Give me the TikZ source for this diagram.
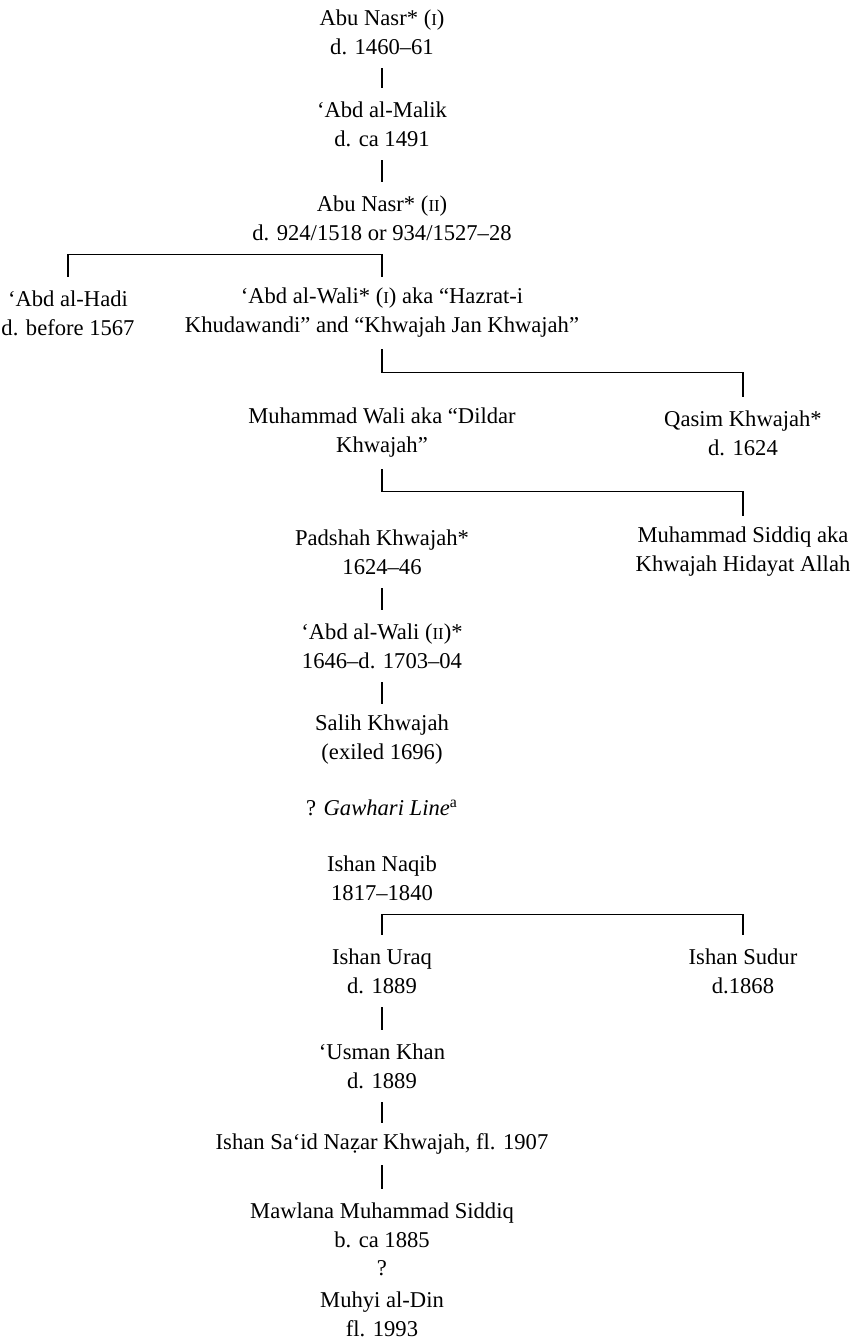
\documentclass[tikz,border=0pt]{standalone}
\usepackage{fontspec}
\setmainfont{Liberation Serif}
\newcommand\romnum[1]{{\fontsize{8.4}{10}\selectfont #1}}

\begin{document}
\begin{tikzpicture}[x=0.5pt,y=-0.5pt,
	every node/.style={font=\fontsize{11.3}{14.5}\selectfont,align=center,inner sep=0pt},
	person/.style={minimum height=36pt},
	single/.style={minimum height=21pt},
	link/.style={line width=0.6pt}]
	\useasboundingbox (0,0) rectangle (855,1341);
	% main line
	\node[person] (nasrA)   at (382,32)   {Abu Nasr* (\romnum{I})\\d. 1460–61};
	\node[person] (malik)   at (382,124)  {‘Abd al-Malik\\d. ca 1491};
	\node[person] (nasrB)   at (382,218)  {Abu Nasr* (\romnum{II})\\d. 924/1518 or 934/1527–28};
	\node[person] (hadi)    at (68,313)   {‘Abd al-Hadi\\d. before 1567};
	\node[person] (waliA)   at (382,313)  {‘Abd al-Wali* (\romnum{I}) aka “Hazrat-i\\Khudawandi” and “Khwajah Jan Khwajah”};
	\node[person] (wali)    at (382,433)  {Muhammad Wali aka “Dildar\\Khwajah”};
	\node[person] (qasim)   at (743,433)  {Qasim Khwajah*\\d. 1624};
	\node[person] (padshah) at (382,552)  {Padshah Khwajah*\\1624–46};
	\node[person] (siddiq)  at (743,552)  {Muhammad Siddiq aka\\Khwajah Hidayat Allah};
	\node[person] (waliB)   at (382,646)  {‘Abd al-Wali (\romnum{II})*\\1646–d. 1703–04};
	\node[person] (salih)   at (382,740)  {Salih Khwajah\\(exiled 1696)};
	\node (gawhari) at (382,808) {? \textit{Gawhari Line}\textsuperscript{a}};
	% later line
	\node[person] (naqib)   at (382,878)  {Ishan Naqib\\1817–1840};
	\node[person] (uraq)    at (382,971)  {Ishan Uraq\\d. 1889};
	\node[person] (sudur)   at (743,971)  {Ishan Sudur\\d.1868};
	\node[person] (usman)   at (382,1066) {‘Usman Khan\\d. 1889};
	\node[single] (nazar)   at (382,1144) {Ishan Sa‘id Naẓar Khwajah, fl. 1907};
	\node[person] (mawlana) at (382,1225) {Mawlana Muhammad Siddiq\\b. ca 1885};
	\node (query) at (382,1268) {?};
	\node[person] (muhyi)   at (382,1314) {Muhyi al-Din\\fl. 1993};

	\foreach \a/\b in {nasrA/malik,malik/nasrB,padshah/waliB,waliB/salih,uraq/usman,usman/nazar,nazar/mawlana}
		\draw[link] (\a) -- (\b);
	\draw[link] (hadi.north) |- (nasrB.south) -- (waliA.north);
	\draw[link] (qasim.north) -- ++(0,-24) -| (waliA.south);
	\draw[link] (siddiq.north) -- ++(0,-24) -| (wali.south);
	\draw[link] (sudur.north) |- (naqib.south) -- (uraq.north);
\end{tikzpicture}
\end{document}
